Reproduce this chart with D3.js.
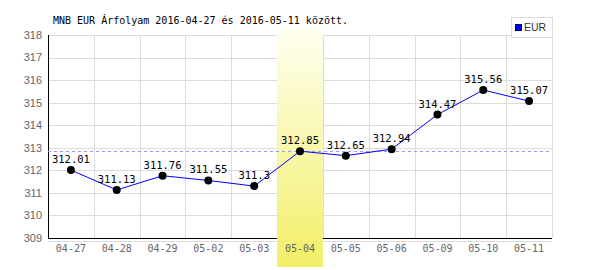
<!DOCTYPE html>
<html>
<head>
<meta charset="utf-8">
<script src="https://cdn.jsdelivr.net/npm/d3@7"></script>
<style>
  body { margin: 0; background: #fff; }
  svg { display: block; }
  .mono { font-family: "DejaVu Sans Mono", monospace; }
</style>
</head>
<body>
<div id="root"></div>
<script>
"use strict";

var title = "MNB EUR Árfolyam 2016-04-27 és 2016-05-11 között.";
var seriesName = "EUR";
var dates = ["04-27", "04-28", "04-29", "05-02", "05-03", "05-04", "05-05", "05-06", "05-09", "05-10", "05-11"];
var rates = [312.01, 311.13, 311.76, 311.55, 311.3, 312.85, 312.65, 312.94, 314.47, 315.56, 315.07];
var rateLabels = ["312.01", "311.13", "311.76", "311.55", "311.3", "312.85", "312.65", "312.94", "314.47", "315.56", "315.07"];
var yTicks = [309, 310, 311, 312, 313, 314, 315, 316, 317, 318];
var highlighted = "05-04";

var width = 600, height = 270;
var margin = { top: 35, right: 48, bottom: 32, left: 48 };

var svg = d3.select("#root").append("svg")
    .attr("width", width)
    .attr("height", height);

var x = d3.scaleBand()
    .domain(dates)
    .range([margin.left, width - margin.right]);

var y = d3.scaleLinear()
    .domain([309, 318])
    .range([height - margin.bottom, margin.top]);

var defs = svg.append("defs");
var grad = defs.append("linearGradient")
    .attr("id", "hl")
    .attr("x1", 0).attr("y1", 0).attr("x2", 0).attr("y2", 1);
grad.append("stop").attr("offset", "0%").attr("stop-color", "#fffff2");
grad.append("stop").attr("offset", "100%").attr("stop-color", "#f1ef66");

// grid
var grid = svg.append("g").attr("stroke", "#dcdcdc").attr("stroke-width", 1);

grid.selectAll(".hgrid")
    .data(yTicks.slice(1))
    .enter()
    .append("line")
    .attr("x1", margin.left)
    .attr("x2", width - margin.right)
    .attr("y1", d => Math.round(y(d)) + 0.5)
    .attr("y2", d => Math.round(y(d)) + 0.5);

grid.selectAll(".vgrid")
    .data(dates.slice(1).concat(["end"]))
    .enter()
    .append("line")
    .attr("x1", (d, i) => Math.round(margin.left + x.step() * (i + 1)) + 0.5)
    .attr("x2", (d, i) => Math.round(margin.left + x.step() * (i + 1)) + 0.5)
    .attr("y1", margin.top)
    .attr("y2", y(309));

// light line under the axis
svg.append("line")
    .attr("x1", margin.left)
    .attr("x2", width - margin.right)
    .attr("y1", Math.round(y(309)) + 3.5)
    .attr("y2", Math.round(y(309)) + 3.5)
    .attr("stroke", "#dcdcdc");

// axes lines
svg.append("line")
    .attr("x1", margin.left + 0.5).attr("x2", margin.left + 0.5)
    .attr("y1", margin.top).attr("y2", Math.round(y(309)) + 0.5)
    .attr("stroke", "#000");
svg.append("line")
    .attr("x1", margin.left).attr("x2", width - margin.right)
    .attr("y1", Math.round(y(309)) + 0.5).attr("y2", Math.round(y(309)) + 0.5)
    .attr("stroke", "#000");

// highlighted day
svg.append("rect")
    .attr("x", x(highlighted))
    .attr("width", x.bandwidth())
    .attr("y", 27)
    .attr("height", 240)
    .attr("fill", "url(#hl)");

// average line
var avg = d3.mean(rates);
svg.append("line")
    .attr("x1", margin.left)
    .attr("x2", width - margin.right)
    .attr("y1", Math.round(y(avg)) + 0.5)
    .attr("y2", Math.round(y(avg)) + 0.5)
    .attr("stroke", "#9999ff")
    .attr("stroke-dasharray", "3,3");

// y tick labels
svg.append("g")
    .selectAll("text")
    .data(yTicks)
    .enter()
    .append("text")
    .attr("x", 42)
    .attr("y", d => y(d))
    .attr("dy", "0.35em")
    .attr("text-anchor", "end")
    .attr("font-family", "Liberation Sans, Arial, sans-serif")
    .attr("font-size", 11)
    .attr("fill", "#666")
    .text(d => d);

// x tick labels
svg.append("g")
    .selectAll("text")
    .data(dates)
    .enter()
    .append("text")
    .classed("mono", true)
    .attr("x", d => x(d) + x.bandwidth() / 2)
    .attr("y", 252)
    .attr("text-anchor", "middle")
    .attr("font-size", 10)
    .attr("fill", "#666")
    .text(d => d);

// series line
var line = d3.line()
    .x((d, i) => x(dates[i]) + x.bandwidth() / 2)
    .y(d => y(d));

svg.append("path")
    .datum(rates)
    .attr("d", line)
    .attr("fill", "none")
    .attr("stroke", "#0000ff")
    .attr("stroke-width", 1);

svg.append("g")
    .selectAll("circle")
    .data(rates)
    .enter()
    .append("circle")
    .attr("cx", (d, i) => x(dates[i]) + x.bandwidth() / 2)
    .attr("cy", d => y(d))
    .attr("r", 4)
    .attr("fill", "#000");

svg.append("g")
    .selectAll("text")
    .data(rates)
    .enter()
    .append("text")
    .classed("mono", true)
    .attr("x", (d, i) => x(dates[i]) + x.bandwidth() / 2)
    .attr("y", d => y(d) - 7)
    .attr("text-anchor", "middle")
    .attr("font-size", 10.5)
    .attr("fill", "#000")
    .text((d, i) => rateLabels[i]);

// title
svg.append("text")
    .classed("mono", true)
    .attr("x", 53)
    .attr("y", 24)
    .attr("font-size", 10)
    .attr("fill", "#000")
    .text(title);

// legend
var legend = svg.append("g");
legend.append("rect")
    .attr("x", 511.5).attr("y", 17.5)
    .attr("width", 41).attr("height", 20)
    .attr("fill", "#fff")
    .attr("stroke", "#dcdcdc");
legend.append("rect")
    .attr("x", 515.5).attr("y", 24.5)
    .attr("width", 6).attr("height", 6)
    .attr("fill", "#0000ff")
    .attr("stroke", "#000066");
legend.append("text")
    .attr("x", 524)
    .attr("y", 31)
    .attr("font-family", "Liberation Sans, Arial, sans-serif")
    .attr("font-size", 10.5)
    .attr("fill", "#333")
    .text(seriesName);
</script>
</body>
</html>
